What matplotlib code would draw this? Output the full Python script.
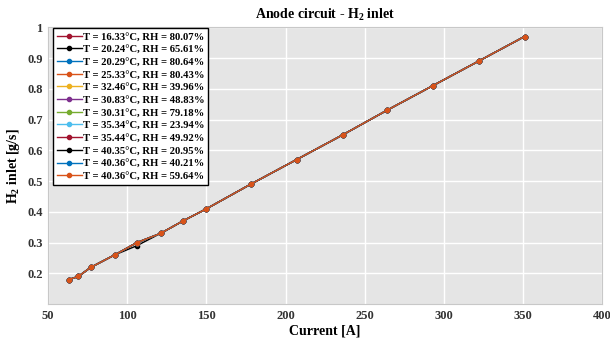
import matplotlib
matplotlib.use("Agg")
import matplotlib.pyplot as plt

plt.rcParams['font.family'] = ['Liberation Serif', 'DejaVu Serif']
plt.rcParams['font.weight'] = 'bold'
plt.rcParams['mathtext.fontset'] = 'custom'
plt.rcParams['mathtext.rm'] = 'Liberation Serif:bold'
plt.rcParams['mathtext.it'] = 'Liberation Serif:bold'
plt.rcParams['mathtext.bf'] = 'Liberation Serif:bold'

labels = [
    "T = 16.33°C, RH = 80.07%",
    "T = 20.24°C, RH = 65.61%",
    "T = 20.29°C, RH = 80.64%",
    "T = 25.33°C, RH = 80.43%",
    "T = 32.46°C, RH = 39.96%",
    "T = 30.83°C, RH = 48.83%",
    "T = 30.31°C, RH = 79.18%",
    "T = 35.34°C, RH = 23.94%",
    "T = 35.44°C, RH = 49.92%",
    "T = 40.35°C, RH = 20.95%",
    "T = 40.36°C, RH = 40.21%",
    "T = 40.36°C, RH = 59.64%",
]
colors = ['#a2142f', '#000000', '#0072bd', '#d95319', '#edb120', '#7e2f8e',
          '#77ac30', '#4dbeee', '#a2142f', '#000000', '#0072bd', '#d95319']

current = [63, 69, 77, 92, 106, 121, 135, 150, 178, 207, 236, 264, 293, 322, 351]
h2_common = [0.18, 0.19, 0.22, 0.26, 0.30, 0.33, 0.37, 0.41, 0.49, 0.57, 0.65, 0.73, 0.81, 0.89, 0.97]
h2_black = [0.18, 0.19, 0.22, 0.26, 0.29, 0.33, 0.37, 0.41, 0.49, 0.57, 0.65, 0.73, 0.81, 0.89, 0.97]
series = [h2_common, h2_black] + [h2_common] * 10

fig = plt.figure(figsize=(6.10, 3.41), dpi=100)
ax = fig.add_axes([0.079, 0.108, 0.908, 0.812])
ax.set_facecolor('#e5e5e5')
for lab, c, y in zip(labels, colors, series):
    ax.plot(current, y, '-o', color=c, lw=1.0, ms=3.0, label=lab)

ax.set_xlim(50, 400)
ax.set_ylim(0.1, 1.0)
ax.set_xticks([50, 100, 150, 200, 250, 300, 350, 400])
ax.set_yticks([0.2, 0.3, 0.4, 0.5, 0.6, 0.7, 0.8, 0.9, 1.0])
ax.set_yticklabels(['0.2', '0.3', '0.4', '0.5', '0.6', '0.7', '0.8', '0.9', '1'])
ax.grid(True, color='white', lw=1.0)
ax.set_axisbelow(True)
for s in ax.spines.values():
    s.set_color('#c8c8c8')
    s.set_linewidth(0.8)
ax.tick_params(length=0, labelsize=9, colors='#333333', pad=4)
for t in ax.get_xticklabels() + ax.get_yticklabels():
    t.set_fontweight('bold')

ax.set_xlabel('Current [A]', fontsize=10, fontweight='bold', labelpad=2)
ax.set_ylabel('H$_2$ inlet [g/s]', fontsize=10, fontweight='bold', labelpad=4)
ax.set_title('Anode circuit - H$_2$ inlet', fontsize=10, fontweight='bold', pad=6)

leg = ax.legend(loc='upper left', bbox_to_anchor=(0.009, 0.997), fontsize=7.7,
                frameon=True, fancybox=False,
                edgecolor='black', framealpha=1, handlelength=2.3,
                handletextpad=0.15, borderpad=0.35, labelspacing=0.3,
                borderaxespad=0.0)
leg.get_frame().set_linewidth(1.0)
for t in leg.get_texts():
    t.set_fontweight('bold')

fig.savefig('out.png', dpi=100, facecolor='white')
